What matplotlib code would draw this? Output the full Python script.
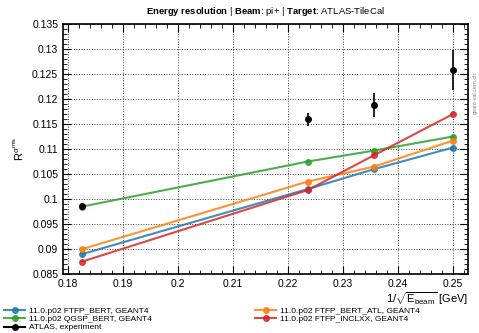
import matplotlib
matplotlib.use("Agg")
import matplotlib.pyplot as plt
from matplotlib.lines import Line2D
from matplotlib.ticker import MultipleLocator

plt.rcParams['font.family'] = ['Liberation Sans', 'DejaVu Sans']
plt.rcParams['mathtext.fontset'] = 'custom'
plt.rcParams['mathtext.rm'] = 'Liberation Sans'
plt.rcParams['mathtext.it'] = 'Liberation Sans'
plt.rcParams['mathtext.bf'] = 'Liberation Sans:bold'

# 1/sqrt(E) for E = 30, 20, 18, 16 GeV
x_vals = [0.1826, 0.2236, 0.2357, 0.2500]

ftfp_bert = [0.0890, 0.1020, 0.1060, 0.1103]
qgsp_bert = [0.0985, 0.1075, 0.1097, 0.1125]
ftfp_bert_atl = [0.0900, 0.1035, 0.1065, 0.1117]
ftfp_inclxx = [0.0875, 0.1018, 0.1088, 0.1170]
atlas = [0.0986, 0.1160, 0.1188, 0.1258]
atlas_err = [0.0006, 0.0013, 0.0024, 0.0040]

series = [
    ("11.0.p02 FTFP_BERT, GEANT4", ftfp_bert, "#1f77b4"),
    ("11.0.p02 QGSP_BERT, GEANT4", qgsp_bert, "#2ca02c"),
    ("11.0.p02 FTFP_BERT_ATL, GEANT4", ftfp_bert_atl, "#ff7f0e"),
    ("11.0.p02 FTFP_INCLXX, GEANT4", ftfp_inclxx, "#d62728"),
]

fig = plt.figure(figsize=(4.79, 3.33), dpi=100)
ax = fig.add_axes([0.1315, 0.177, 0.8455, 0.751])

handles = {}
for label, vals, col in series:
    h, = ax.plot(x_vals, vals, '-o', color=col, lw=1.5, ms=4, alpha=0.85, label=label)
    handles[label] = h
ax.errorbar(x_vals, atlas, yerr=atlas_err, fmt='o', color='black',
            ms=4, elinewidth=1.2, capsize=0)
h_atlas = Line2D([], [], color='black', marker='o', ms=4, lw=1.5, label="ATLAS, experiment")

ax.set_xlim(0.1791, 0.2527)
ax.set_ylim(0.085, 0.135)
ax.xaxis.set_major_locator(MultipleLocator(0.01))
ax.xaxis.set_minor_locator(MultipleLocator(0.002))
ax.yaxis.set_major_locator(MultipleLocator(0.005))
ax.yaxis.set_minor_locator(MultipleLocator(0.001))
ax.xaxis.set_major_formatter(plt.FuncFormatter(lambda v, p: f"{v:g}"))
ax.yaxis.set_major_formatter(plt.FuncFormatter(lambda v, p: f"{v:g}"))
ax.tick_params(which='both', direction='in', top=True, right=True, labelsize=7.5)
ax.tick_params(which='major', length=6, width=0.8)
ax.tick_params(which='minor', length=3, width=0.6)
ax.grid(True, which='major', ls=':', color='#444444', lw=0.7)
for s in ax.spines.values():
    s.set_linewidth(1.2)

ax.set_ylabel(r"$\mathrm{R}^{\sigma^{rms}}$", fontsize=8)
ax.set_xlabel(r"1/$\sqrt{\mathrm{E_{beam}}}$ [GeV]", fontsize=8, loc='right', labelpad=1)
ax.set_title(r"$\bf{Energy\ resolution}$ | $\bf{Beam}$: pi+ | $\bf{Target}$: ATLAS-TileCal",
             fontsize=6.8, pad=7)

fig.text(0.992, 0.72, "geant-val.cern.ch", rotation=90, fontsize=4, color='gray',
         ha='center', va='center')

leg_h = [handles[series[0][0]], handles[series[1][0]], h_atlas,
         handles[series[2][0]], handles[series[3][0]]]
fig.legend(handles=leg_h, labels=[h.get_label() for h in leg_h], ncol=2,
           loc='lower left', bbox_to_anchor=(0.0, -0.008), frameon=False,
           fontsize=6, handlelength=2.5, labelspacing=0.05, columnspacing=12.4,
           handletextpad=0.5, borderaxespad=0.1)

fig.savefig("out.png", dpi=100)
